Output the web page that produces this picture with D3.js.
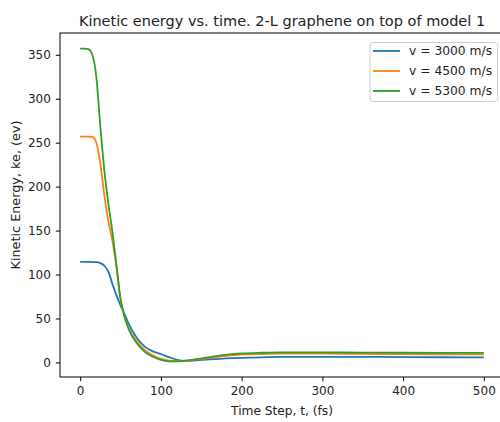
<!DOCTYPE html>
<html>
<head>
<meta charset="utf-8">
<script src="https://cdn.jsdelivr.net/npm/d3@7"></script>
<style>
  body { margin: 0; background: #fff; }
  svg { display: block; font-family: "DejaVu Sans", sans-serif; }
</style>
</head>
<body>
<svg id="chart"></svg>
<script>
// time steps (fs)
var time = [0, 5, 10, 15, 20, 25, 30, 35, 40, 45, 50, 55, 60, 70, 80, 90, 100, 110, 120, 130, 140, 160, 180, 200, 225, 250, 300, 350, 400, 450, 500];

// kinetic energy (ev) for each impact velocity
var ke3000 = [114.3, 114.3, 114.3, 114.2, 114, 113, 110, 103, 89, 76, 65, 55, 44, 28, 18, 12.5, 9.5, 6, 3, 1.8, 2.2, 3.6, 4.5, 5.2, 5.8, 6.2, 6.4, 6.3, 6.1, 5.9, 5.7];
var ke4500 = [257, 257, 257, 256.5, 250, 226, 190, 160, 138, 108, 72, 52, 39, 24, 14, 8, 4, 2, 1.5, 1.8, 2.8, 5, 7.5, 9, 9.6, 9.9, 9.9, 9.7, 9.5, 9.3, 9.1];
var ke5300 = [357, 357, 356.5, 350, 325, 268, 218, 180, 148, 110, 72, 52, 38, 22, 12, 6.5, 3, 1.3, 1.2, 2, 3.2, 6, 8.5, 10.2, 11, 11.4, 11.4, 11.2, 11, 10.9, 10.9];

var seriesNames = ['v = 3000 m/s', 'v = 4500 m/s', 'v = 5300 m/s'];
var seriesColors = ['#1f77b4', '#ff7f0e', '#2ca02c'];

var xTicks = [0, 100, 200, 300, 400, 500];
var yTicks = [0, 50, 100, 150, 200, 250, 300, 350];

var width = 500, height = 422;
var mLeft = 60, mTop = 33, mRight = 504, mBottom = 377;

var svg = d3.select('#chart')
    .attr('width', width)
    .attr('height', height);

var series = [ke3000, ke4500, ke5300].map(function (vals, i) {
    return {
        name: seriesNames[i],
        color: seriesColors[i],
        points: vals.map(function (v, j) { return [time[j], v]; })
    };
});

var allVals = ke3000.concat(ke4500, ke5300);
var yMin = d3.min(allVals), yMax = d3.max(allVals);
var yPad = (yMax - yMin) * 0.05;

var x = d3.scaleLinear().domain([-25, 525]).range([mLeft, mRight]);
var y = d3.scaleLinear().domain([yMin - yPad, yMax + yPad]).range([mBottom, mTop]);

svg.append('defs').append('clipPath').attr('id', 'clip')
    .append('rect')
    .attr('x', mLeft).attr('y', mTop)
    .attr('width', mRight - mLeft).attr('height', mBottom - mTop);

var line = d3.line()
    .x(function (d) { return x(d[0]); })
    .y(function (d) { return y(d[1]); })
    .curve(d3.curveMonotoneX);

svg.append('g')
    .attr('clip-path', 'url(#clip)')
    .selectAll('path')
    .data(series)
    .enter()
    .append('path')
    .attr('d', function (d) { return line(d.points); })
    .attr('fill', 'none')
    .attr('stroke', function (d) { return d.color; })
    .attr('stroke-width', 1.8)
    .attr('stroke-linejoin', 'round');

// axes
var xAxis = svg.append('g')
    .attr('transform', 'translate(0,' + mBottom + ')')
    .call(d3.axisBottom(x).tickValues(xTicks).tickSize(4.2).tickPadding(5));

var yAxis = svg.append('g')
    .attr('transform', 'translate(' + mLeft + ',0)')
    .call(d3.axisLeft(y).tickValues(yTicks).tickSize(4.2).tickPadding(5));

[xAxis, yAxis].forEach(function (ax) {
    ax.select('.domain').remove();
    ax.selectAll('line').attr('stroke', '#000').attr('stroke-width', 1);
    ax.selectAll('text')
        .attr('fill', '#222')
        .style('font-size', '12px')
        .style('font-family', '"DejaVu Sans", sans-serif');
});

// spines
svg.append('rect')
    .attr('x', mLeft).attr('y', mTop)
    .attr('width', mRight - mLeft).attr('height', mBottom - mTop)
    .attr('fill', 'none')
    .attr('stroke', '#000')
    .attr('stroke-width', 1);

// labels
svg.append('text')
    .attr('x', (mLeft + mRight) / 2)
    .attr('y', 26)
    .attr('text-anchor', 'middle')
    .attr('fill', '#222')
    .style('font-size', '14.5px')
    .text('Kinetic energy vs. time. 2-L graphene on top of model 1');

svg.append('text')
    .attr('x', (mLeft + mRight) / 2)
    .attr('y', 415)
    .attr('text-anchor', 'middle')
    .attr('fill', '#222')
    .style('font-size', '12.2px')
    .text('Time Step, t, (fs)');

svg.append('text')
    .attr('transform', 'translate(20,195) rotate(-90)')
    .attr('text-anchor', 'middle')
    .attr('fill', '#222')
    .style('font-size', '12.8px')
    .text('Kinetic Energy, ke, (ev)');

// legend
var legend = svg.append('g').attr('transform', 'translate(370,42.5)');

legend.append('rect')
    .attr('width', 127.5).attr('height', 59)
    .attr('rx', 3)
    .attr('fill', '#fff')
    .attr('fill-opacity', 0.8)
    .attr('stroke', '#cccccc')
    .attr('stroke-width', 1);

var items = legend.selectAll('.item')
    .data(series)
    .enter()
    .append('g')
    .attr('class', 'item')
    .attr('transform', function (d, i) { return 'translate(0,' + (8.5 + i * 20) + ')'; });

items.append('line')
    .attr('x1', 3).attr('x2', 30)
    .attr('stroke', function (d) { return d.color; })
    .attr('stroke-width', 1.8);

items.append('text')
    .attr('x', 39)
    .attr('y', 4.3)
    .attr('fill', '#222')
    .style('font-size', '12.3px')
    .text(function (d) { return d.name; });
</script>
</body>
</html>
